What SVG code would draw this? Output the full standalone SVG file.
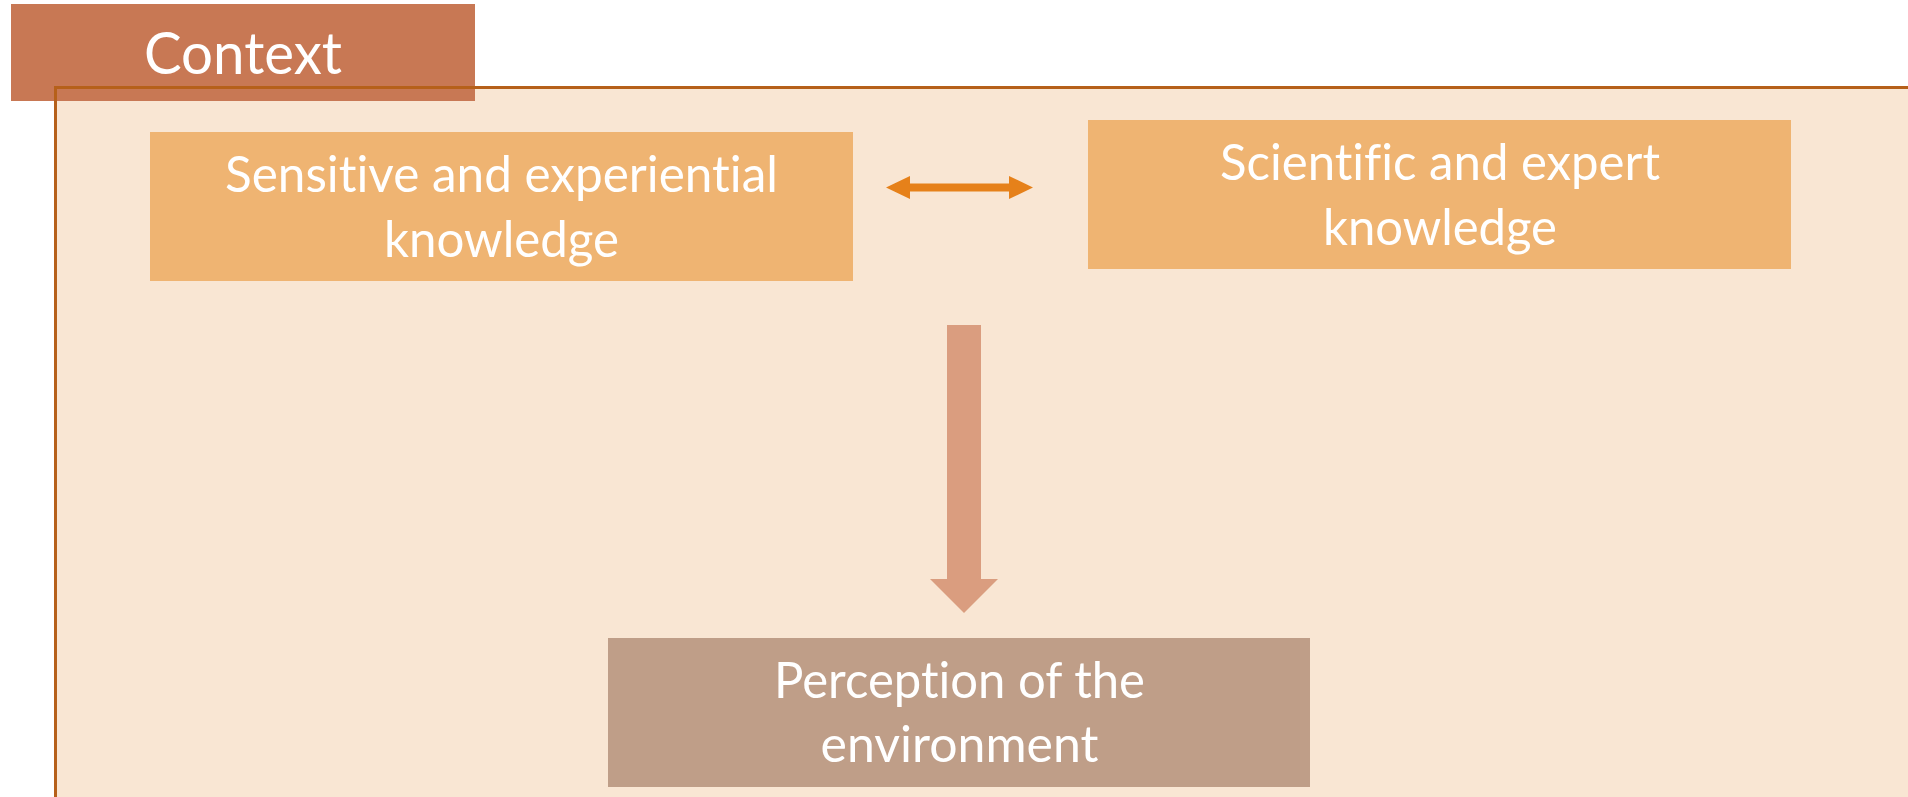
<svg xmlns="http://www.w3.org/2000/svg" width="1908" height="797" viewBox="0 0 1908 797">
  <style>
    .lbl { font-family: Lato, "Open Sans", "Liberation Sans", sans-serif; fill: #FFFFFF; text-anchor: middle; font-variant-ligatures: none; font-feature-settings: "liga" 0, "clig" 0, "dlig" 0; }
    .body { font-size: 50px; }
    .title { font-size: 58px; }
    .knowledge { fill: #EFB472; }
  </style>
  <rect x="0" y="0" width="1908" height="797" fill="#FFFFFF"/>
  <g id="context-container">
    <rect x="55.5" y="87.5" width="1900" height="760" fill="#F9E6D3"/>
  </g>
  <g id="context-tab">
    <rect x="11" y="4" width="464" height="97" fill="#C87854"/>
    <text class="lbl title" x="243" y="74" textLength="198" lengthAdjust="spacingAndGlyphs">Context</text>
  </g>
  <g id="context-border">
    <rect x="55.5" y="87.5" width="1900" height="760" fill="none" stroke="#B6601A" stroke-width="3"/>
  </g>
  <g id="sensitive">
    <rect class="knowledge" x="150" y="132" width="703" height="149"/>
    <text class="lbl body" x="501.5" y="192" textLength="553" lengthAdjust="spacingAndGlyphs">Sensitive and experiential</text>
    <text class="lbl body" x="501.5" y="257" textLength="235" lengthAdjust="spacingAndGlyphs">knowledge</text>
  </g>
  <g id="scientific">
    <rect class="knowledge" x="1088" y="120" width="703" height="149"/>
    <text class="lbl body" x="1440" y="180" textLength="440" lengthAdjust="spacingAndGlyphs">Scientific and expert</text>
    <text class="lbl body" x="1440" y="245" textLength="234" lengthAdjust="spacingAndGlyphs">knowledge</text>
  </g>
  <g id="perception">
    <rect x="608" y="638" width="702" height="149" fill="#BF9E88"/>
    <text class="lbl body" x="959.5" y="698" textLength="371" lengthAdjust="spacingAndGlyphs">Perception of the</text>
    <text class="lbl body" x="959.5" y="762" textLength="278" lengthAdjust="spacingAndGlyphs">environment</text>
  </g>
  <g id="connectors">
    <polygon points="886,187.5 910,176 910,183.5 1009,183.5 1009,176 1033,187.5 1009,199 1009,191.5 910,191.5 910,199" fill="#E6811A"/>
    <polygon points="947,325 981,325 981,579 998,579 964,613 930,579 947,579" fill="#DA9D7F"/>
  </g>
</svg>
